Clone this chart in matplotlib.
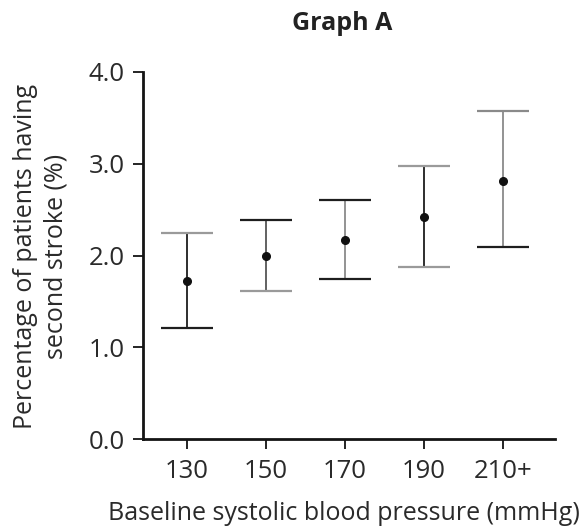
import numpy as np
import matplotlib
matplotlib.use("Agg")
from matplotlib import pyplot as plt

# data
categories = ["130", "150", "170", "190", "210+"]
means = [1.72, 2.00, 2.17, 2.42, 2.81]
upper = [2.24, 2.39, 2.61, 2.97, 3.57]
lower = [1.21, 1.61, 1.74, 1.87, 2.09]

# the scan shows some bar parts in grey and some in near black
stem_colors = ["#1e1e1e", "#555555", "#8a8a8a", "#1e1e1e", "#8a8a8a"]
top_colors = ["#9a9a9a", "#1e1e1e", "#1e1e1e", "#9a9a9a", "#8a8a8a"]
bottom_colors = ["#1e1e1e", "#9a9a9a", "#1e1e1e", "#9a9a9a", "#1e1e1e"]

plt.rcParams["font.family"] = ["Open Sans", "DejaVu Sans"]
text_color = "#2a2a2a"

fig = plt.figure(figsize=(5.83, 5.29), dpi=100)
ax = fig.add_axes([0.2453, 0.170, 0.7067, 0.694])

x = np.arange(len(categories))
cap = 0.333
ax.vlines(x, lower, upper, colors=stem_colors, linewidth=1.3)
ax.hlines(upper, x - cap, x + cap, colors=top_colors, linewidth=1.6)
ax.hlines(lower, x - cap, x + cap, colors=bottom_colors, linewidth=1.6)
ax.plot(x, means, "o", color="#111111", markersize=5.5, zorder=3)

ax.set_xlim(-0.557, 4.658)
ax.set_ylim(0, 4)
ax.set_xticks(x)
ax.set_xticklabels(categories)
ax.set_yticks([0, 1, 2, 3, 4])
ax.set_yticklabels(["0.0", "1.0", "2.0", "3.0", "4.0"])

for s in ["top", "right"]:
    ax.spines[s].set_visible(False)
for s in ["left", "bottom"]:
    ax.spines[s].set_linewidth(2.0)
    ax.spines[s].set_color("#141414")
ax.tick_params(axis="both", direction="out", length=7, width=1.3,
               color="#141414", labelsize=18.5, labelcolor=text_color, pad=6)
ax.tick_params(axis="x", pad=7)

fig.text(342 / 583, 1 - 24 / 529, "Graph A", ha="center", va="center",
         fontsize=18, fontweight="bold", color="#222222")
fig.text(344 / 583, 1 - 513 / 529, "Baseline systolic blood pressure (mmHg)",
         ha="center", va="center", fontsize=18, color=text_color)
fig.text(41 / 583, 1 - 256 / 529, "Percentage of patients having\nsecond stroke (%)",
         ha="center", va="center", rotation=90, fontsize=18, color=text_color,
         linespacing=1.28, multialignment="center")

fig.savefig("out.png", dpi=100)
